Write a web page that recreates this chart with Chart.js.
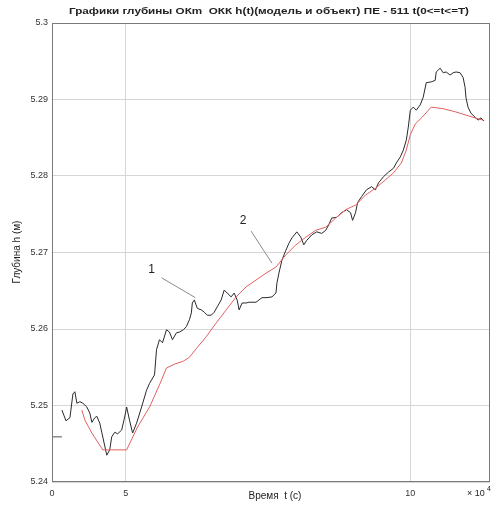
<!DOCTYPE html>
<html>
<head>
<meta charset="utf-8">
<script src="https://cdn.jsdelivr.net/npm/chart.js@4/dist/chart.umd.min.js"></script>
<style>
  html, body { margin: 0; padding: 0; background: #fff; }
  #wrap { width: 497px; height: 507px; }
</style>
</head>
<body>
<div id="wrap"><canvas id="chart" width="497" height="507"></canvas></div>
<script>
// texts
const titleText = 'Графики глубины ОКm  ОКК h(t)(модель и объект) ПЕ - 511 t(0<=t<=T)';
const xTitle = 'Время  t (с)';
const yTitle = 'Глубина h (м)';

// axes (t in 10^4 s)
const xMin = 3.706, xMax = 11.4;
const yMin = 5.24, yMax = 5.30;
const xTickValues = [3.706, 5, 10];
const xTickLabels = ['0', '5', '10'];
const yTickValues = [5.24, 5.25, 5.26, 5.27, 5.28, 5.29, 5.30];
const yTickLabels = ['5.24', '5.25', '5.26', '5.27', '5.28', '5.29', '5.3'];

// curve 1 - object
const tObject = [3.881, 3.951, 4.021, 4.073, 4.108, 4.143, 4.196, 4.248, 4.318, 4.371,
  4.406, 4.458, 4.493, 4.545, 4.580, 4.633, 4.668, 4.720, 4.755, 4.808,
  4.860, 4.930, 4.983, 5.017, 5.070, 5.122, 5.192, 5.280, 5.367, 5.420,
  5.507, 5.542, 5.594, 5.647, 5.717, 5.769, 5.822, 5.892, 5.944, 6.014,
  6.066, 6.119, 6.154, 6.171, 6.206, 6.259, 6.329, 6.381, 6.434, 6.503,
  6.556, 6.608, 6.678, 6.731, 6.783, 6.853, 6.906, 6.958, 6.993, 7.045,
  7.115, 7.168, 7.238, 7.290, 7.343, 7.395, 7.483, 7.570, 7.640, 7.657,
  7.692, 7.745, 7.815, 7.867, 7.920, 8.007, 8.077, 8.129, 8.182, 8.269,
  8.357, 8.444, 8.514, 8.566, 8.619, 8.706, 8.794, 8.881, 8.951, 8.986,
  9.038, 9.073, 9.143, 9.231, 9.318, 9.388, 9.441, 9.528, 9.615, 9.703,
  9.755, 9.825, 9.878, 9.930, 9.965, 10.000, 10.052, 10.105, 10.175, 10.227,
  10.280, 10.367, 10.437, 10.455, 10.524, 10.577, 10.629, 10.699, 10.752, 10.804,
  10.874, 10.927, 10.962, 10.979, 11.014, 11.066, 11.136, 11.189, 11.241, 11.294];
const hObject = [5.2494, 5.2480, 5.2484, 5.2515, 5.2518, 5.2503, 5.2505, 5.2503, 5.2498, 5.2490,
  5.2478, 5.2484, 5.2486, 5.2477, 5.2465, 5.2447, 5.2435, 5.2442, 5.2459, 5.2465,
  5.2463, 5.2468, 5.2485, 5.2498, 5.2480, 5.2464, 5.2477, 5.2498, 5.2520, 5.2529,
  5.2540, 5.2573, 5.2586, 5.2582, 5.2599, 5.2596, 5.2586, 5.2595, 5.2596, 5.2599,
  5.2603, 5.2612, 5.2621, 5.2634, 5.2638, 5.2627, 5.2625, 5.2622, 5.2618, 5.2618,
  5.2622, 5.2629, 5.2638, 5.2651, 5.2647, 5.2642, 5.2647, 5.2638, 5.2625, 5.2634,
  5.2634, 5.2635, 5.2635, 5.2635, 5.2638, 5.2641, 5.2641, 5.2642, 5.2647, 5.2660,
  5.2673, 5.2690, 5.2703, 5.2712, 5.2719, 5.2727, 5.2720, 5.2710, 5.2716, 5.2723,
  5.2727, 5.2725, 5.2729, 5.2736, 5.2745, 5.2746, 5.2752, 5.2756, 5.2752, 5.2742,
  5.2752, 5.2765, 5.2773, 5.2782, 5.2786, 5.2782, 5.2791, 5.2799, 5.2805, 5.2810,
  5.2817, 5.2825, 5.2834, 5.2847, 5.2864, 5.2886, 5.2890, 5.2886, 5.2893, 5.2903,
  5.2922, 5.2923, 5.2925, 5.2936, 5.2941, 5.2935, 5.2936, 5.2932, 5.2935, 5.2936,
  5.2935, 5.2929, 5.2916, 5.2902, 5.2890, 5.2882, 5.2877, 5.2873, 5.2876, 5.2872];

// curve 2 - model
const tModel = [4.231, 4.283, 4.406, 4.598, 5.017, 5.210, 5.420, 5.594, 5.717, 5.857,
  6.014, 6.119, 6.259, 6.416, 6.591, 6.766, 6.941, 7.115, 7.290, 7.465,
  7.640, 7.815, 7.990, 8.164, 8.339, 8.514, 8.689, 8.864, 9.038, 9.213,
  9.388, 9.563, 9.703, 9.843, 9.930, 10.000, 10.087, 10.210, 10.367, 10.577,
  10.787, 10.962, 11.136, 11.276];
const hModel = [5.2494, 5.2481, 5.2464, 5.2442, 5.2442, 5.2472, 5.2498, 5.2527, 5.2549, 5.2554,
  5.2558, 5.2563, 5.2576, 5.2590, 5.2608, 5.2625, 5.2642, 5.2655, 5.2664, 5.2673,
  5.2681, 5.2697, 5.2710, 5.2720, 5.2729, 5.2733, 5.2745, 5.2756, 5.2762, 5.2775,
  5.2784, 5.2795, 5.2804, 5.2817, 5.2834, 5.2854, 5.2868, 5.2877, 5.2890, 5.2888,
  5.2884, 5.2880, 5.2876, 5.2873];

// short starting mark at the left edge
const tStart = [3.706, 3.881];
const hStart = [5.2459, 5.2459];

// curve numbers with leader lines
const noteText = ['1', '2'];
const noteT = [5.455, 7.063];
const noteH = [5.2677, 5.2741];
const leadT0 = [5.629, 7.203], leadH0 = [5.2667, 5.2728];
const leadT1 = [6.224, 7.570], leadH1 = [5.2641, 5.2686];

function pts(t, h) { return t.map((v, i) => ({ x: v, y: h[i] })); }

const decor = {
  id: 'decor',
  afterDraw(chart) {
    const ctx = chart.ctx, a = chart.chartArea;
    const xs = chart.scales.x, ys = chart.scales.y;
    ctx.save();
    // box
    ctx.strokeStyle = '#7a7a7a';
    ctx.lineWidth = 1;
    ctx.strokeRect(a.left + 0.5, a.top + 0.5, a.right - a.left - 1, a.bottom - a.top - 1);
    // title, stretched to the width it has in the picture
    ctx.fillStyle = '#222';
    ctx.font = 'bold 9.5px "Liberation Sans", Arial, sans-serif';
    ctx.textAlign = 'center';
    ctx.textBaseline = 'middle';
    const w = ctx.measureText(titleText).width;
    ctx.save();
    ctx.translate(269, 11);
    ctx.scale(400 / w, 1);
    ctx.fillText(titleText, 0, 0);
    ctx.restore();
    // x title
    ctx.font = '10px "Liberation Sans", Arial, sans-serif';
    ctx.fillText(xTitle, 275, 496);
    // exponent
    ctx.textAlign = 'left';
    ctx.font = '9px "Liberation Sans", Arial, sans-serif';
    ctx.fillText('× 10', 467, 494);
    ctx.font = '7px "Liberation Sans", Arial, sans-serif';
    ctx.fillText('4', 487, 489);
    // y title
    ctx.save();
    ctx.translate(17, 252);
    ctx.rotate(-Math.PI / 2);
    ctx.textAlign = 'center';
    ctx.font = '10px "Liberation Sans", Arial, sans-serif';
    ctx.fillText(yTitle, 0, 0);
    ctx.restore();
    // curve numbers
    ctx.strokeStyle = '#8a8a8a';
    ctx.lineWidth = 1;
    ctx.font = '12px "Liberation Sans", Arial, sans-serif';
    ctx.textAlign = 'center';
    noteText.forEach((s, i) => {
      ctx.fillStyle = '#222';
      ctx.fillText(s, xs.getPixelForValue(noteT[i]), ys.getPixelForValue(noteH[i]));
      ctx.beginPath();
      ctx.moveTo(xs.getPixelForValue(leadT0[i]), ys.getPixelForValue(leadH0[i]));
      ctx.lineTo(xs.getPixelForValue(leadT1[i]), ys.getPixelForValue(leadH1[i]));
      ctx.stroke();
    });
    ctx.restore();
  }
};

new Chart(document.getElementById('chart'), {
  type: 'scatter',
  data: {
    datasets: [
      { label: 'модель', data: pts(tModel, hModel), showLine: true, borderColor: 'rgb(226,96,96)',
        borderWidth: 1, pointRadius: 0, tension: 0 },
      { label: 'объект', data: pts(tObject, hObject), showLine: true, borderColor: '#2a2a2a',
        borderWidth: 1, pointRadius: 0, tension: 0 },
      { label: 'h0', data: pts(tStart, hStart), showLine: true, borderColor: '#555',
        borderWidth: 1, pointRadius: 0 }
    ]
  },
  options: {
    responsive: false,
    animation: false,
    devicePixelRatio: 1,
    layout: { padding: { top: 23, right: 7, left: 0, bottom: 0 } },
    plugins: { legend: { display: false }, tooltip: { enabled: false } },
    scales: {
      x: {
        type: 'linear', min: xMin, max: xMax,
        afterFit: (s) => { s.height = 25; },
        afterBuildTicks: (s) => { s.ticks = xTickValues.map(v => ({ value: v })); },
        grid: { color: '#d6d6d6', drawTicks: false },
        border: { display: false },
        ticks: {
          autoSkip: false, maxRotation: 0, padding: 6, color: '#333',
          font: { size: 9, family: '"Liberation Sans", Arial, sans-serif' },
          callback: (v, i) => xTickLabels[i]
        }
      },
      y: {
        type: 'linear', min: yMin, max: yMax,
        afterFit: (s) => { s.width = 52; },
        afterBuildTicks: (s) => { s.ticks = yTickValues.map(v => ({ value: v })); },
        grid: { color: '#d6d6d6', drawTicks: false },
        border: { display: false },
        ticks: {
          autoSkip: false, padding: 4, color: '#333',
          font: { size: 9, family: '"Liberation Sans", Arial, sans-serif' },
          callback: (v, i) => yTickLabels[i]
        }
      }
    }
  },
  plugins: [decor]
});
</script>
</body>
</html>
